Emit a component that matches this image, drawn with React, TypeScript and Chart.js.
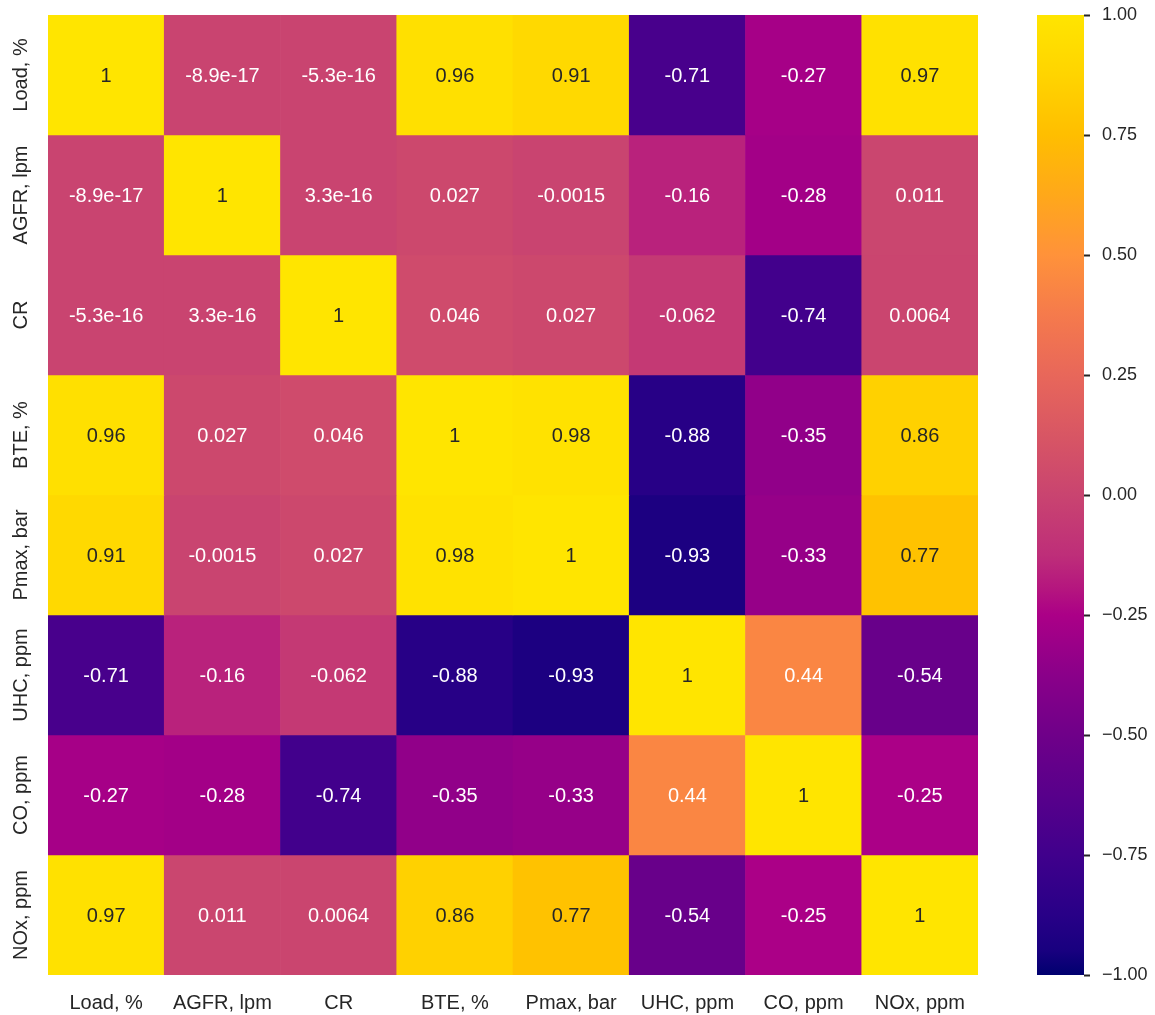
import React, { useEffect, useRef } from "react";
import { Chart, registerables } from "chart.js";

Chart.register(...registerables);

const variables = ["Load, %", "AGFR, lpm", "CR", "BTE, %", "Pmax, bar", "UHC, ppm", "CO, ppm", "NOx, ppm"];

const loadRow = [1, -8.9e-17, -5.3e-16, 0.96, 0.91, -0.71, -0.27, 0.97];
const agfrRow = [-8.9e-17, 1, 3.3e-16, 0.027, -0.0015, -0.16, -0.28, 0.011];
const crRow = [-5.3e-16, 3.3e-16, 1, 0.046, 0.027, -0.062, -0.74, 0.0064];
const bteRow = [0.96, 0.027, 0.046, 1, 0.98, -0.88, -0.35, 0.86];
const pmaxRow = [0.91, -0.0015, 0.027, 0.98, 1, -0.93, -0.33, 0.77];
const uhcRow = [-0.71, -0.16, -0.062, -0.88, -0.93, 1, 0.44, -0.54];
const coRow = [-0.27, -0.28, -0.74, -0.35, -0.33, 0.44, 1, -0.25];
const noxRow = [0.97, 0.011, 0.0064, 0.86, 0.77, -0.54, -0.25, 1];

const matrixRows = [loadRow, agfrRow, crRow, bteRow, pmaxRow, uhcRow, coRow, noxRow];

const colorbarTicks = [-1, -0.75, -0.5, -0.25, 0, 0.25, 0.5, 0.75, 1];

const cmapStops: [number, string][] = [
  [-1.0, "#00006f"],
  [-0.95, "#18007f"],
  [-0.875, "#280087"],
  [-0.75, "#40008c"],
  [-0.625, "#58008b"],
  [-0.5, "#6f0089"],
  [-0.375, "#8a0089"],
  [-0.25, "#ab0087"],
  [-0.2, "#b4147f"],
  [-0.125, "#be2e79"],
  [0.0, "#c94470"],
  [0.125, "#d85664"],
  [0.25, "#e8675a"],
  [0.375, "#f57a4c"],
  [0.5, "#ff923a"],
  [0.625, "#ffa81a"],
  [0.75, "#ffbe00"],
  [0.875, "#ffd400"],
  [1.0, "#ffe500"],
];

const FONT = "'Liberation Sans', Arial, sans-serif";
const DARK = "#262626";

function hexToRgb(h: string): number[] {
  const n = parseInt(h.slice(1), 16);
  return [(n >> 16) & 255, (n >> 8) & 255, n & 255];
}

function cmapRgb(v: number): number[] {
  const x = Math.max(-1, Math.min(1, v));
  for (let i = 0; i < cmapStops.length - 1; i++) {
    const [a, ca] = cmapStops[i];
    const [b, cb] = cmapStops[i + 1];
    if (x >= a && x <= b) {
      const t = (x - a) / (b - a);
      const A = hexToRgb(ca);
      const B = hexToRgb(cb);
      return A.map((c, k) => Math.round(c + (B[k] - c) * t));
    }
  }
  return hexToRgb(cmapStops[cmapStops.length - 1][1]);
}

function cmap(v: number): string {
  const [r, g, b] = cmapRgb(v);
  return `rgb(${r},${g},${b})`;
}

function luminance(rgb: number[]): number {
  const lin = rgb.map((c) => {
    const s = c / 255;
    return s <= 0.03928 ? s / 12.92 : Math.pow((s + 0.055) / 1.055, 2.4);
  });
  return 0.2126 * lin[0] + 0.7152 * lin[1] + 0.0722 * lin[2];
}

function fmt2g(v: number): string {
  if (v === 0) return "0";
  const e = Math.floor(Math.log10(Math.abs(v)));
  if (e < -4 || e >= 2) return v.toExponential(1);
  return String(Number(v.toPrecision(2)));
}

const annotPlugin = {
  id: "annot",
  afterDatasetsDraw(chart: any) {
    const { ctx, scales } = chart;
    const xs = scales.x;
    const ys = scales.y;
    ctx.save();
    ctx.font = `20px ${FONT}`;
    ctx.textAlign = "center";
    ctx.textBaseline = "middle";
    matrixRows.forEach((row, r) => {
      row.forEach((v, c) => {
        const px = xs.getPixelForValue(c);
        const py = ys.getPixelForValue(r + 0.5);
        ctx.fillStyle = luminance(cmapRgb(v)) > 0.408 ? DARK : "#ffffff";
        ctx.fillText(fmt2g(v), px, py + 1);
      });
    });
    ctx.fillStyle = DARK;
    variables.forEach((lab, r) => {
      const py = ys.getPixelForValue(r + 0.5);
      ctx.save();
      ctx.translate(21, py);
      ctx.rotate(-Math.PI / 2);
      ctx.fillText(lab, 0, 0);
      ctx.restore();
    });
    ctx.restore();
  },
};

const gradientPlugin = {
  id: "cbgrad",
  afterDatasetsDraw(chart: any) {
    const { ctx } = chart;
    const el = chart.getDatasetMeta(0).data[0];
    if (!el) return;
    const { x, y, base, width } = el.getProps(["x", "y", "base", "width"], true);
    const top = Math.min(y, base);
    const bot = Math.max(y, base);
    const g = ctx.createLinearGradient(0, bot, 0, top);
    cmapStops.forEach(([v, c]) => g.addColorStop((v + 1) / 2, c));
    ctx.save();
    ctx.fillStyle = g;
    ctx.fillRect(x - width / 2, top, width, bot - top);
    ctx.restore();
  },
};

export default function App() {
  const heatRef = useRef<HTMLCanvasElement>(null);
  const cbRef = useRef<HTMLCanvasElement>(null);

  useEffect(() => {
    const heat = new Chart(heatRef.current as HTMLCanvasElement, {
      type: "bar",
      data: {
        labels: variables,
        datasets: matrixRows.map((row, r) => ({
          label: variables[r],
          data: row.map(() => [r, r + 1]) as any,
          backgroundColor: row.map((v) => cmap(v)),
          borderWidth: 0,
          grouped: false,
          categoryPercentage: 1,
          barPercentage: 1,
        })),
      },
      options: {
        animation: false,
        responsive: false,
        maintainAspectRatio: false,
        layout: { padding: { left: 48, right: 22, top: 15, bottom: 0 } },
        plugins: { legend: { display: false }, tooltip: { enabled: false } },
        scales: {
          x: {
            type: "category",
            grid: { display: false, drawTicks: false },
            border: { display: false },
            ticks: { font: { family: FONT, size: 20 }, color: DARK, padding: 16, maxRotation: 0, minRotation: 0 },
            afterFit(scale: any) {
              scale.height = 40;
            },
          },
          y: {
            type: "linear",
            display: false,
            min: 0,
            max: 8,
            reverse: true,
          },
        },
      } as any,
      plugins: [annotPlugin],
    });

    const cb = new Chart(cbRef.current as HTMLCanvasElement, {
      type: "bar",
      data: {
        labels: ["cb"],
        datasets: [
          {
            data: [[-1, 1]] as any,
            borderWidth: 0,
            categoryPercentage: 1,
            barPercentage: 1,
            backgroundColor: "rgba(0,0,0,0)",
          },
        ],
      },
      options: {
        animation: false,
        responsive: false,
        maintainAspectRatio: false,
        layout: { padding: { left: 37, right: 0, top: 15, bottom: 40 } },
        plugins: { legend: { display: false }, tooltip: { enabled: false } },
        scales: {
          x: { display: false },
          y: {
            type: "linear",
            position: "right",
            min: -1,
            max: 1,
            afterBuildTicks(scale: any) {
              scale.ticks = colorbarTicks.map((v) => ({ value: v }));
            },
            grid: { drawOnChartArea: false, drawTicks: true, tickLength: 6, tickWidth: 2, color: DARK },
            border: { display: false },
            ticks: {
              font: { family: FONT, size: 18 },
              color: DARK,
              padding: 12,
              callback: (v: any) => {
                const n = Number(v);
                const s = Math.abs(n).toFixed(2);
                return n < 0 ? "\u2212" + s : s;
              },
            },
            afterFit(scale: any) {
              scale.width = 71;
              scale.paddingTop = 0;
              scale.paddingBottom = 0;
            },
          },
        },
      } as any,
      plugins: [gradientPlugin],
    });

    return () => {
      heat.destroy();
      cb.destroy();
    };
  }, []);

  return (
    <div style={{ position: "fixed", left: 0, top: 0, width: 1155, height: 1015, background: "#ffffff" }}>
      <canvas ref={heatRef} width={1000} height={1015} style={{ position: "absolute", left: 0, top: 0, width: 1000, height: 1015 }} />
      <canvas ref={cbRef} width={155} height={1015} style={{ position: "absolute", left: 1000, top: 0, width: 155, height: 1015 }} />
    </div>
  );
}
